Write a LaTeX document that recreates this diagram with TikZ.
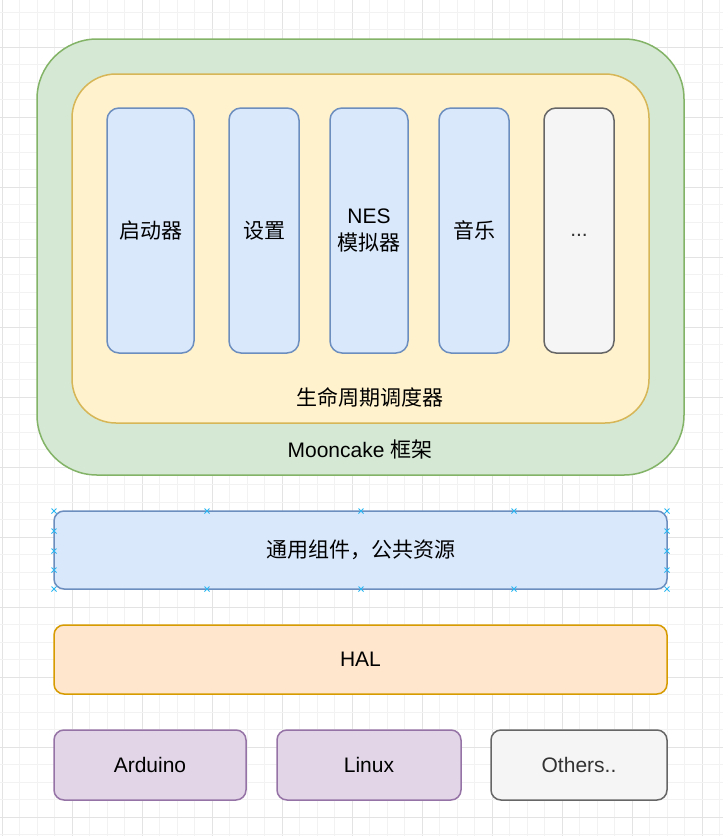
\documentclass[tikz,border=0pt]{standalone}
\usepackage{fontspec}
\setmainfont{Liberation Sans}
\newfontfamily\cjk{Noto Sans CJK SC}
\definecolor{gridminor}{HTML}{F2F2F2}
\definecolor{gridmajor}{HTML}{E3E3E3}
\definecolor{gfill}{HTML}{D5E8D4}\definecolor{gline}{HTML}{82B366}
\definecolor{yfill}{HTML}{FFF2CC}\definecolor{yline}{HTML}{D6B656}
\definecolor{bfill}{HTML}{DAE8FC}\definecolor{bline}{HTML}{6C8EBF}
\definecolor{ofill}{HTML}{FFE6CC}\definecolor{oline}{HTML}{D79B00}
\definecolor{pfill}{HTML}{E1D5E7}\definecolor{pline}{HTML}{9673A6}
\definecolor{sfill}{HTML}{F5F5F5}\definecolor{sline}{HTML}{666666}
\definecolor{stext}{HTML}{333333}
\definecolor{handle}{HTML}{29B6F2}
\begin{document}
\begin{tikzpicture}[x=1pt,y=-1pt,
  every node/.style={font=\fontsize{21}{27}\selectfont, inner sep=0pt, outer sep=0pt},
  framebox/.style={draw, line width=1.5pt, rectangle, anchor=north west},
  green box/.style={framebox, fill=gfill, draw=gline, rounded corners=60pt},
  yellow box/.style={framebox, fill=yfill, draw=yline, rounded corners=44pt},
  column/.style={framebox, fill=bfill, draw=bline, rounded corners=12pt},
  greycol/.style={framebox, fill=sfill, draw=sline, rounded corners=12pt},
  layer/.style={framebox, rounded corners=10pt},
  lbl/.style={anchor=center, align=center},
  handlemark/.style={draw=handle, line width=0.9pt}
]
\useasboundingbox (0,0) rectangle (723,836);
\fill[white] (0,0) rectangle (723,836);
% grid
\foreach \k in {0,...,41} {
  \pgfmathsetmacro\xx{2+17.5*\k}
  \pgfmathtruncatemacro\m{mod(\k,4)}
  \ifnum\m=0 \draw[gridmajor, line width=1pt] (\xx,0) -- (\xx,836);
  \else \draw[gridminor, line width=1pt] (\xx,0) -- (\xx,836); \fi
}
\foreach \k in {0,...,47} {
  \pgfmathsetmacro\yy{12+17.5*\k}
  \pgfmathtruncatemacro\m{mod(\k,4)}
  \ifnum\m=2 \draw[gridmajor, line width=1pt] (0,\yy) -- (723,\yy);
  \else \draw[gridminor, line width=1pt] (0,\yy) -- (723,\yy); \fi
}

% framework
\node[green box, minimum width=647pt, minimum height=436pt] (fw) at (37,39) {};
\node[yellow box, minimum width=577pt, minimum height=349pt] (lc) at (72,74) {};
\node[column, minimum width=87pt, minimum height=245pt] (c1) at (107,108) {};
\node[column, minimum width=70pt, minimum height=245pt] (c2) at (229,108) {};
\node[column, minimum width=78pt, minimum height=245pt] (c3) at (330,108) {};
\node[column, minimum width=70pt, minimum height=245pt] (c4) at (439,108) {};
\node[greycol, minimum width=70pt, minimum height=245pt] (c5) at (544,108) {};
\node[lbl] (t1) at (c1.center) {\cjk 启动器};
\node[lbl] (t2) at (c2.center) {\cjk 设置};
\node[lbl] (t3) at (c3.center) {NES\\{\cjk 模拟器}};
\node[lbl] (t4) at (c4.center) {\cjk 音乐};
\node[lbl, text=stext] (t5) at ([yshift=-5pt]c5.center) {...};
\node[lbl] (tlc) at (370,397) {\cjk 生命周期调度器};
\node[lbl] (tfw) at (360,450) {Mooncake {\cjk 框架}};

% common
\node[layer, fill=bfill, draw=bline, minimum width=613pt, minimum height=78pt] (common) at (54,511) {};
\node[lbl] at (common.center) {\cjk 通用组件，公共资源};
\foreach \px/\py in {54/511,207/511,361/511,514/511,667/511,
                     54/589,207/589,361/589,514/589,667/589,
                     54/531,54/551,54/570,667/531,667/551,667/570} {
  \draw[handlemark] (\px-2.5,\py-2.5) -- (\px+2.5,\py+2.5) (\px-2.5,\py+2.5) -- (\px+2.5,\py-2.5);
}

% HAL
\node[layer, fill=ofill, draw=oline, minimum width=613pt, minimum height=69pt] (hal) at (54,625) {};
\node[lbl] at (hal.center) {HAL};

% platforms
\node[layer, fill=pfill, draw=pline, minimum width=192pt, minimum height=70pt] (ard) at (54,730) {};
\node[layer, fill=pfill, draw=pline, minimum width=184pt, minimum height=70pt] (lin) at (277,730) {};
\node[layer, fill=sfill, draw=sline, minimum width=176pt, minimum height=70pt] (oth) at (491,730) {};
\node[lbl] at (ard.center) {Arduino};
\node[lbl] at (lin.center) {Linux};
\node[lbl, text=stext] at (oth.center) {Others..};
\end{tikzpicture}
\end{document}
